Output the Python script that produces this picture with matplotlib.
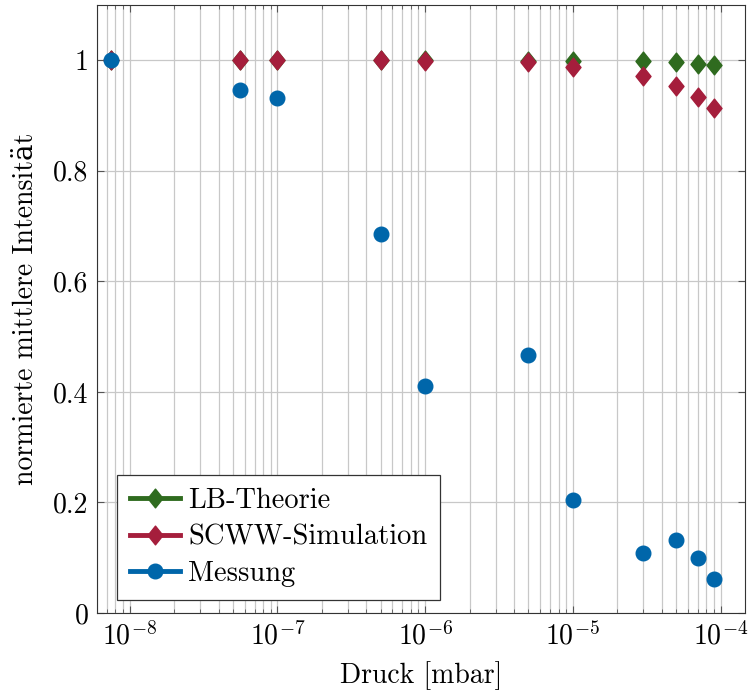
import matplotlib
matplotlib.use('Agg')
import matplotlib.pyplot as plt
from matplotlib.path import Path
from matplotlib.ticker import LogLocator, NullFormatter

plt.rcParams['font.family'] = ['cmr10', 'DejaVu Serif']
plt.rcParams['mathtext.fontset'] = 'cm'
plt.rcParams['axes.unicode_minus'] = False
plt.rcParams['axes.formatter.use_mathtext'] = True
plt.rcParams['font.size'] = 20

# Daten
druck = [7.5e-9, 5.6e-8, 1e-7, 5e-7, 1e-6, 5e-6, 1e-5, 3e-5, 5e-5, 7e-5, 9e-5]
lb_theorie = [1.0, 1.0, 1.0, 1.0, 1.0, 0.9995, 0.999, 0.998, 0.996, 0.994, 0.991]
scww_sim = [1.0, 1.0, 1.0, 1.0, 0.999, 0.996, 0.988, 0.971, 0.953, 0.934, 0.913]
messung = [1.0, 0.947, 0.931, 0.685, 0.410, 0.466, 0.204, 0.108, 0.132, 0.0995, 0.061]

gruen = '#2f6b1f'
rot = '#a51e3c'
blau = '#0066aa'

# schmale Raute wie bei pgfplots
raute = Path([(0, 1), (0.8, 0), (0, -1), (-0.8, 0), (0, 1)],
             [Path.MOVETO, Path.LINETO, Path.LINETO, Path.LINETO, Path.CLOSEPOLY])

fig = plt.figure(figsize=(7.54, 6.94), dpi=100)
ax = fig.add_axes([0.1286, 0.1167, 0.988 - 0.1286, 0.9928 - 0.1167])

ax.plot(druck, lb_theorie, linestyle='none', marker=raute, markersize=13.5, color=gruen,
        label='LB-Theorie')
ax.plot(druck, scww_sim, linestyle='none', marker=raute, markersize=13.5, color=rot,
        label='SCWW-Simulation')
ax.plot(druck, messung, linestyle='none', marker='o', markersize=10.5, color=blau,
        label='Messung')

ax.set_xscale('log')
ax.set_xlim(6e-9, 1.46e-4)
ax.set_ylim(0, 1.1)
ax.set_yticks([0, 0.2, 0.4, 0.6, 0.8, 1.0])
ax.set_yticklabels(['0', '0.2', '0.4', '0.6', '0.8', '1'])
ax.xaxis.set_major_locator(LogLocator(base=10, numticks=20))
ax.xaxis.set_minor_locator(LogLocator(base=10, subs=range(2, 10), numticks=100))
ax.xaxis.set_minor_formatter(NullFormatter())

ax.grid(True, which='major', color='#c8c8c8', linewidth=0.9)
ax.grid(True, which='minor', axis='x', color='#c8c8c8', linewidth=0.9)
ax.set_axisbelow(True)
ax.tick_params(which='both', direction='in', top=True, right=True, color='#555555')
ax.tick_params(which='major', length=5, pad=6)
ax.tick_params(which='minor', length=3)
for s in ax.spines.values():
    s.set_color('#333333')

ax.set_xlabel('Druck [mbar]', labelpad=8)
ax.set_ylabel('normierte mittlere Intensität', labelpad=10)

leg = ax.legend(loc='lower left', bbox_to_anchor=(0.031, 0.021), borderaxespad=0,
                fancybox=False, framealpha=1, edgecolor='#333333',
                handlelength=1.75, fontsize=20.5, labelspacing=0.36,
                borderpad=0.45, handletextpad=0.3)
for h in leg.get_lines():
    h.set_linestyle('-')
    h.set_linewidth(3.5)
leg.get_frame().set_linewidth(0.9)

fig.savefig('out.png', dpi=100)
